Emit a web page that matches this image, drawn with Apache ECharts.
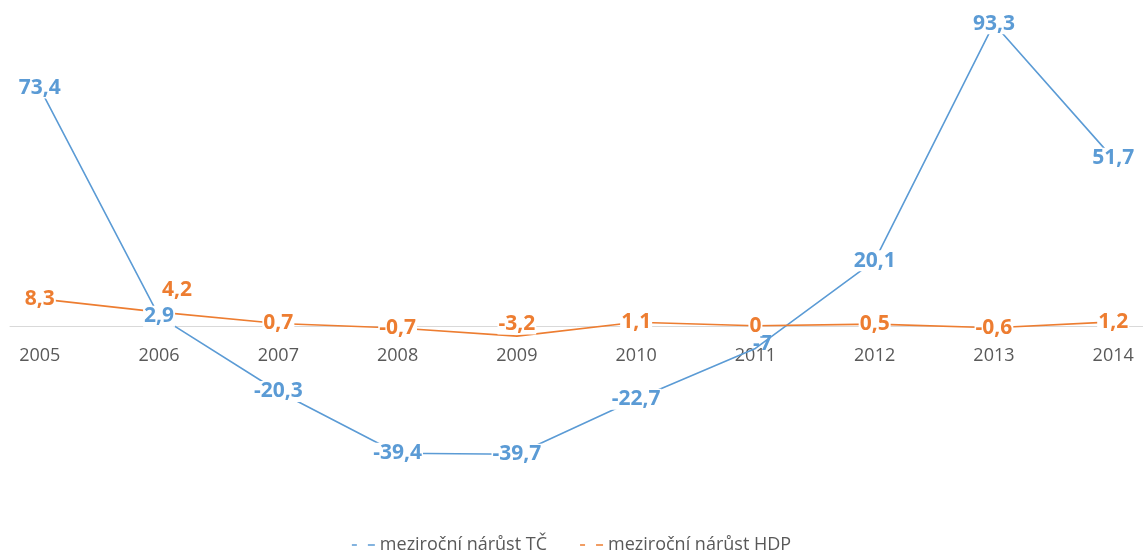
<!DOCTYPE html>
<html>
<head>
<meta charset="utf-8">
<script src="https://cdn.jsdelivr.net/npm/echarts@6/dist/echarts.min.js"></script>
<style>
  html, body { margin: 0; padding: 0; background: #fff; }
  #chart { width: 1143px; height: 560px; }
</style>
</head>
<body>
<div id="chart"></div>
<script>
// Roky a meziroční nárůsty (v %)
const years = [2005, 2006, 2007, 2008, 2009, 2010, 2011, 2012, 2013, 2014];
const growthTC = [73.4, 2.9, -20.3, -39.4, -39.7, -22.7, -7, 20.1, 93.3, 51.7];
const growthHDP = [8.3, 4.2, 0.7, -0.7, -3.2, 1.1, 0, 0.5, -0.6, 1.2];
const seriesNames = ['meziroční nárůst TČ', 'meziroční nárůst HDP'];

const BLUE = '#5B9BD5';
const ORANGE = '#ED7D31';
const FONT = '"Open Sans", "DejaVu Sans", sans-serif';

// Plocha grafu a rozsah osy Y
const GRID = { left: 10, right: 0, top: 2, bottom: 40 };
const CHART_H = 560;
const Y_MIN = -60, Y_MAX = 100;

// Osa X leží na nulové hodnotě: posun od spodního okraje plochy
const plotH = CHART_H - GRID.top - GRID.bottom;
const zeroFromBottom = plotH * (0 - Y_MIN) / (Y_MAX - Y_MIN);

// Popisky, které nesedí přímo na bodě
const labelTweaks = {
  0: { 6: { offset: [7, -4], backgroundColor: 'transparent' } },
  1: { 1: { position: 'top', distance: 11, offset: [18, 0] }, 4: { position: 'top', distance: 1 } }
};

function fmt(v) { return String(v).replace('.', ','); }

function buildData(values, seriesIdx) {
  return values.map((v, i) => {
    const item = { value: [years[i], v] };
    const t = labelTweaks[seriesIdx] && labelTweaks[seriesIdx][i];
    if (t) item.label = t;
    return item;
  });
}

function lineSeries(name, values, color, idx) {
  return {
    name: name,
    type: 'line',
    data: buildData(values, idx),
    symbol: 'circle',
    symbolSize: 1,
    showSymbol: true,
    lineStyle: { color: color, width: 1.6 },
    itemStyle: { color: color },
    label: {
      show: true,
      position: 'inside',
      formatter: p => fmt(p.value[1]),
      color: color,
      fontFamily: FONT,
      fontWeight: 'bold',
      fontSize: 21,
      backgroundColor: '#fff',
      padding: [0, 1]
    }
  };
}

const legendIcon = 'path://M0,0h5v1.6h-5z M16,0h7v1.6h-7z';

const chart = echarts.init(document.getElementById('chart'), null, { renderer: 'canvas' });
chart.setOption({
  backgroundColor: '#fff',
  animation: false,
  grid: GRID,
  legend: {
    bottom: 1,
    left: 'center',
    itemGap: 33,
    itemWidth: 23,
    itemHeight: 2,
    textStyle: { color: '#595959', fontFamily: FONT, fontSize: 18 },
    data: [
      { name: seriesNames[0], icon: legendIcon, itemStyle: { color: BLUE } },
      { name: seriesNames[1], icon: legendIcon, itemStyle: { color: ORANGE } }
    ]
  },
  xAxis: {
    type: 'value',
    min: 2004.75,
    max: 2014.25,
    offset: -zeroFromBottom,
    splitLine: { show: false },
    axisTick: { show: false },
    axisLine: { show: true, onZero: false, lineStyle: { color: '#d9d9d9', width: 1 } },
    axisLabel: {
      customValues: years,
      color: '#595959',
      fontFamily: FONT,
      fontSize: 18,
      margin: 21,
      formatter: v => String(v)
    }
  },
  yAxis: {
    type: 'value',
    min: Y_MIN,
    max: Y_MAX,
    show: false,
    splitLine: { show: false }
  },
  series: [
    lineSeries(seriesNames[0], growthTC, BLUE, 0),
    lineSeries(seriesNames[1], growthHDP, ORANGE, 1)
  ]
});
</script>
</body>
</html>
